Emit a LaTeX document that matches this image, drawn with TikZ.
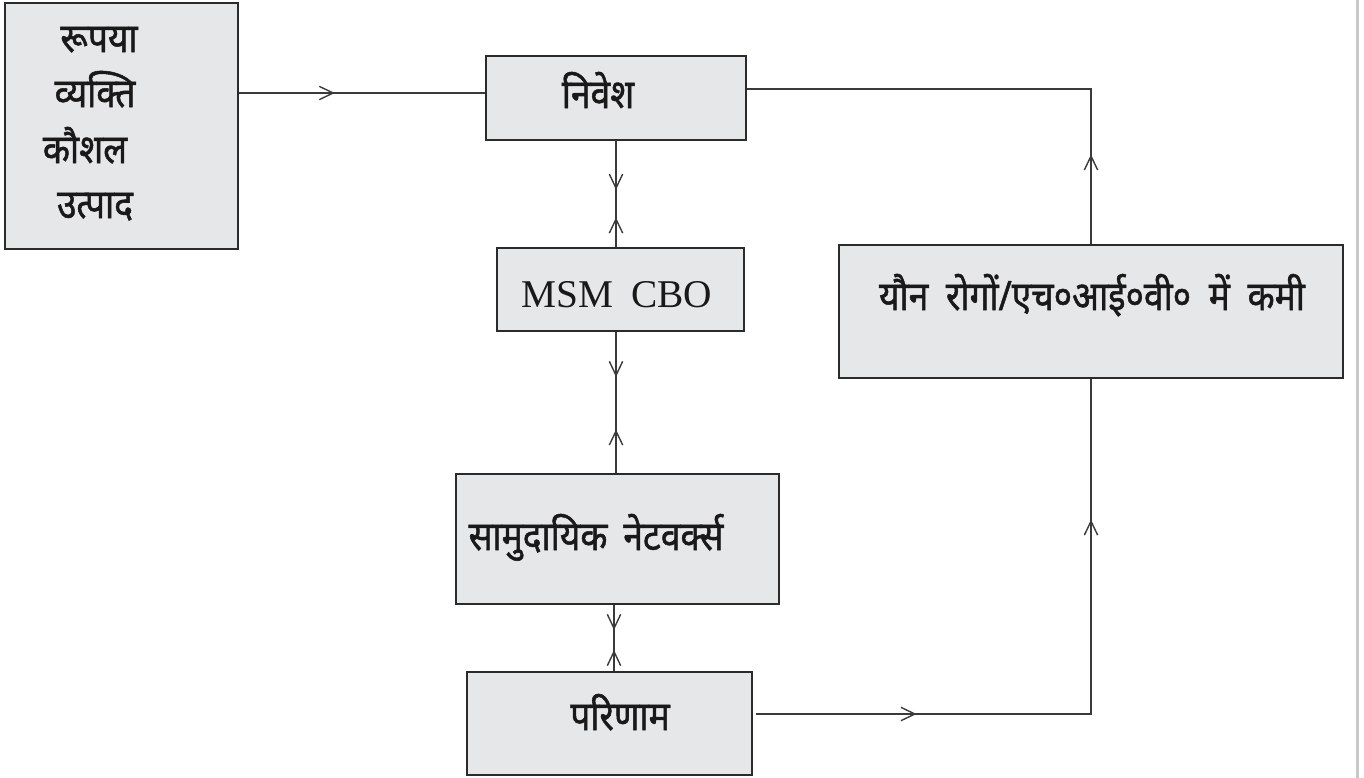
\documentclass[tikz,border=0pt]{standalone}
\usepackage{fontspec}
\setmainfont{Liberation Serif}
\newfontfamily\deva[Script=Devanagari, FakeBold=1.3]{Noto Sans}
\usetikzlibrary{arrows.meta,decorations.markings,fit}
\definecolor{boxfill}{HTML}{E6E7E8}
\definecolor{boxline}{HTML}{2B2B2B}
\definecolor{connline}{HTML}{3A3A3A}
\definecolor{edgebar}{HTML}{C8C8C8}
\newcommand\dv[1]{\scalebox{1}[1.14]{#1}}
\tikzset{
  chev/.tip={Straight Barb[length=10.5pt,width=10pt,line width=1.05pt]},
  box/.style={draw=boxline, fill=boxfill, line width=1pt, inner sep=0pt, rectangle},
  dtext/.style={inner sep=0pt, anchor=base, font=\deva\fontsize{26.5}{30}\selectfont, text=black!90},
  conn/.style={draw=connline, line width=0.8pt},
}
\begin{document}
\begin{tikzpicture}[x=0.75pt,y=-0.75pt]
\useasboundingbox (0,0) rectangle (1364,778);
\fill[edgebar] (1356,0) rectangle (1359,778);
% boxes
\node[box, fit={(5,3) (238,249)}] (b1) {};
\node[box, fit={(486,56) (746,140)}] (nv) {};
\node[box, fit={(497,248) (744,331)}] (ms) {};
\node[box, fit={(456,474) (779,604)}] (cn) {};
\node[box, fit={(467,672) (752,775)}] (pr) {};
\node[box, fit={(839,245) (1343,378)}] (yr) {};
% texts
\node[dtext] (t1) at (99,52) {\dv{रूपया}};
\node[dtext] (t2) at (95,107) {\dv{व्यक्ति}};
\node[dtext] (t3) at (85,163) {\dv{कौशल}};
\node[dtext] (t4) at (95,218) {\dv{उत्पाद}};
\node[dtext] (tnv) at (598,108) {\dv{निवेश}};
\node[inner sep=0pt, anchor=base, font=\fontsize{29.5}{35}\selectfont, text=black!90] (tms) at (617,307) {MSM\hspace{0.45em}CBO};
\node[dtext] (tcn) at (596,550) {\dv{सामुदायिक\hspace{0.45em}नेटवर्क्स}};
\node[dtext] (tpr) at (620,730) {\dv{परिणाम}};
\node[dtext] (tyr) at (1092,310) {\dv{यौन\hspace{0.5em}रोगों/एच०आई०वी०\hspace{0.5em}में\hspace{0.5em}कमी}};
% level coordinates
\coordinate (lvA) at (0,93);
\coordinate (lvB) at (0,89);
\coordinate (lvC) at (0,714);
\coordinate (xr) at (1091,0);
% connectors
\draw[conn, postaction={decorate}, decoration={markings, mark=at position 0.39 with {\arrow{chev}}}]
  (b1.east |- lvA) -- (nv.west |- lvA);
\draw[conn, postaction={decorate}, decoration={markings, mark=at position 0.18 with {\arrow{chev}}}]
  (yr.north) -- (xr |- lvB) -- (nv.east |- lvB);
\draw[conn, postaction={decorate}, decoration={markings, mark=at position 0.46 with {\arrow{chev}}, mark=at position 0.72 with {\arrowreversed{chev}}}]
  (nv.south) -- (ms.north -| nv.south);
\draw[conn, postaction={decorate}, decoration={markings, mark=at position 0.32 with {\arrow{chev}}, mark=at position 0.69 with {\arrowreversed{chev}}}]
  (ms.south -| nv.south) -- (cn.north -| nv.south);
\coordinate (xc) at (614,0);
\draw[conn, postaction={decorate}, decoration={markings, mark=at position 0.38 with {\arrow{chev}}, mark=at position 0.68 with {\arrowreversed{chev}}}]
  (cn.south -| xc) -- (pr.north -| xc);
\draw[conn, postaction={decorate}, decoration={markings, mark=at position 0.24 with {\arrow{chev}}, mark=at position 0.79 with {\arrow{chev}}}]
  ([xshift=2.2pt]pr.east |- lvC) -- (xr |- lvC) -- (yr.south);
\end{tikzpicture}
\end{document}
